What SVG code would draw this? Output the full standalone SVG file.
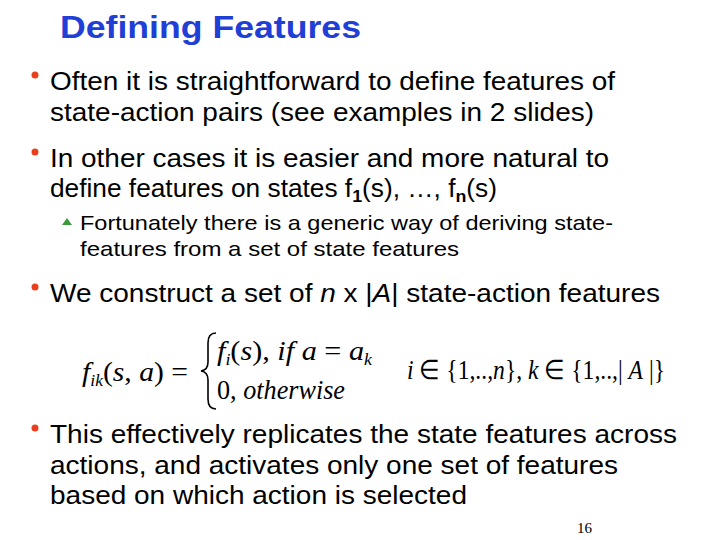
<svg xmlns="http://www.w3.org/2000/svg" width="720" height="540" viewBox="0 0 720 540">
<style>
.t{font-family:"Liberation Sans",Arial,sans-serif;font-size:25px;fill:#000}
.s{font-family:"Liberation Sans",Arial,sans-serif;font-size:21px;fill:#000}
.m{font-family:"Liberation Serif","Times New Roman",serif;font-size:27px;fill:#000}
.b{fill:#e8401c}
</style>
<rect width="720" height="540" fill="#fff"/>
<g id="title"><text x="60" y="38" textLength="301" lengthAdjust="spacingAndGlyphs" font-family="Liberation Sans,Arial,sans-serif" font-size="31" font-weight="bold" fill="#1f3fd6">Defining Features</text></g>
<g id="b1"><circle class="b" cx="35" cy="75" r="3.5"/>
<text class="t" x="50" y="90" textLength="565" lengthAdjust="spacingAndGlyphs">Often it is straightforward to define features of</text>
<text class="t" x="50" y="121" textLength="544" lengthAdjust="spacingAndGlyphs">state-action pairs (see examples in 2 slides)</text></g>
<g id="b2"><circle class="b" cx="35" cy="152" r="3.5"/>
<text class="t" x="50" y="167" textLength="559" lengthAdjust="spacingAndGlyphs">In other cases it is easier and more natural to</text>
<text class="t" x="50" y="197" textLength="447" lengthAdjust="spacingAndGlyphs">define features on states f<tspan font-size="17" font-weight="bold" dy="5">1</tspan><tspan dy="-5">(s), …, f</tspan><tspan font-size="17" font-weight="bold" dy="5">n</tspan><tspan dy="-5">(s)</tspan></text></g>
<g id="sub"><polygon points="62,225 67,218 72,225" fill="#3a9a3a"/>
<text class="s" x="80" y="230" textLength="533" lengthAdjust="spacingAndGlyphs">Fortunately there is a generic way of deriving state-</text>
<text class="s" x="80" y="256" textLength="379" lengthAdjust="spacingAndGlyphs">features from a set of state features</text></g>
<g id="b3"><circle class="b" cx="35" cy="287" r="3.5"/>
<text class="t" x="50" y="302" textLength="610" lengthAdjust="spacingAndGlyphs">We construct a set of <tspan font-style="italic">n</tspan> x |<tspan font-style="italic">A</tspan>| state-action features</text></g>
<g id="formula">
<text class="m" x="82" y="381" textLength="106" lengthAdjust="spacingAndGlyphs"><tspan font-style="italic">f</tspan><tspan font-style="italic" font-size="16" dy="5">ik</tspan><tspan dy="-5">(</tspan><tspan font-style="italic">s</tspan>, <tspan font-style="italic">a</tspan>) =</text>
<path d="M216,333 Q208,333 208,343 L208,362 Q208,370 201,371 Q208,372 208,380 L208,399 Q208,409 216,409" fill="none" stroke="#000" stroke-width="1.6"/>
<text class="m" x="217" y="360" textLength="155" lengthAdjust="spacingAndGlyphs"><tspan font-style="italic">f</tspan><tspan font-style="italic" font-size="16" dy="5">i</tspan><tspan dy="-5">(</tspan><tspan font-style="italic">s</tspan>), <tspan font-style="italic">if</tspan>  <tspan font-style="italic">a</tspan> = <tspan font-style="italic">a</tspan><tspan font-style="italic" font-size="16" dy="5">k</tspan></text>
<text class="m" x="217" y="399" textLength="128" lengthAdjust="spacingAndGlyphs">0, <tspan font-style="italic">otherwise</tspan></text>
<text class="m" x="407" y="379" textLength="258" lengthAdjust="spacingAndGlyphs"><tspan font-style="italic">i</tspan> ∈ {1,..,<tspan font-style="italic">n</tspan>}, <tspan font-style="italic">k</tspan> ∈ {1,..,| <tspan font-style="italic">A</tspan> |}</text>
</g>
<g id="b4"><circle class="b" cx="35" cy="428" r="3.5"/>
<text class="t" x="50" y="443" textLength="627" lengthAdjust="spacingAndGlyphs">This effectively replicates the state features across</text>
<text class="t" x="50" y="474" textLength="568" lengthAdjust="spacingAndGlyphs">actions, and activates only one set of features</text>
<text class="t" x="50" y="504" textLength="417" lengthAdjust="spacingAndGlyphs">based on which action is selected</text></g>
<g id="page"><text x="577" y="533" font-family="Liberation Serif,serif" font-size="15">16</text></g>
</svg>
